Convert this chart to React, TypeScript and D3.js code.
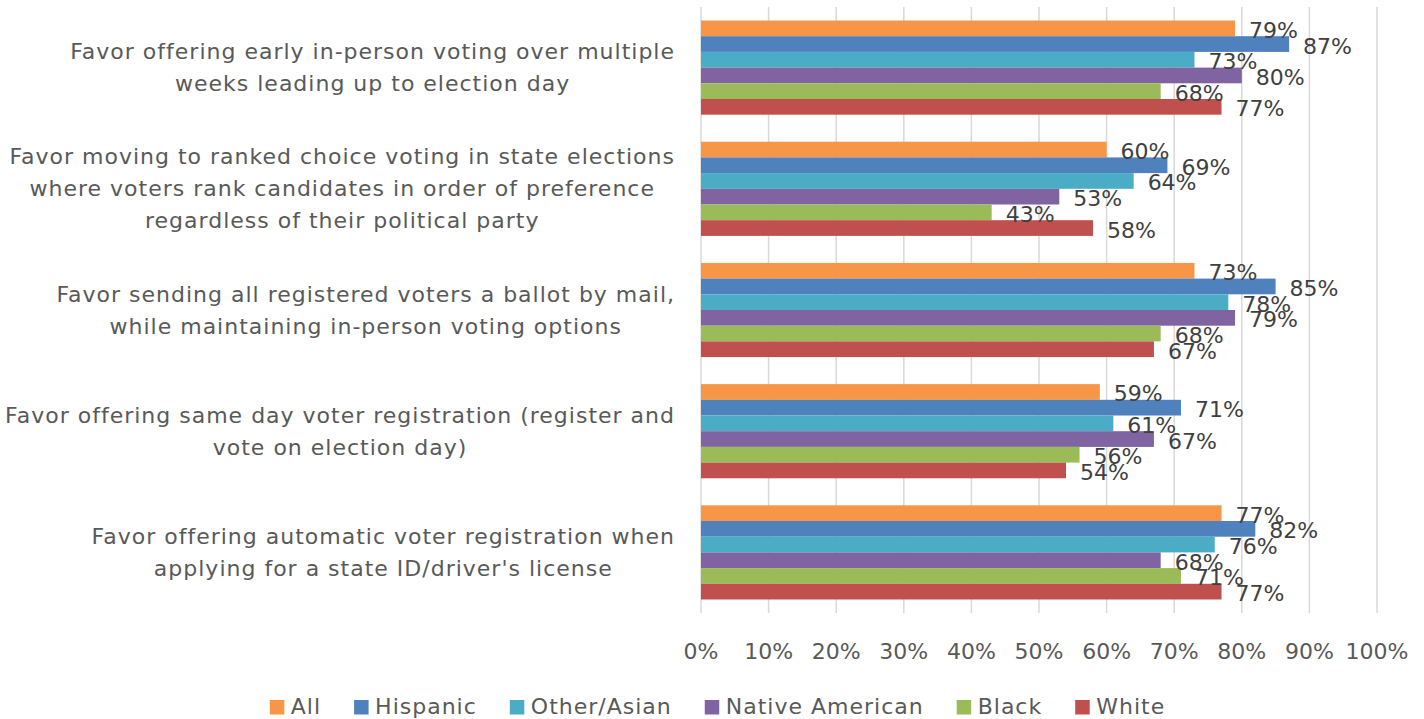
import React, { useEffect, useRef } from "react";
import * as d3 from "d3";

const categories = [
  ["Favor offering early in-person voting over multiple", "weeks leading up to election day"],
  ["Favor moving to ranked choice voting in state elections", "where voters rank candidates in order of preference", "regardless of their political party"],
  ["Favor sending all registered voters a ballot by mail,", "while maintaining in-person voting options"],
  ["Favor offering same day voter registration (register and", "vote on election day)"],
  ["Favor offering automatic voter registration when", "applying for a state ID/driver's license"],
];
const seriesNames = ["All", "Hispanic", "Other/Asian", "Native American", "Black", "White"];
const seriesColors = ["#F79646", "#4F81BD", "#4BACC6", "#8064A2", "#9BBB59", "#C0504D"];
const allValues = [79, 60, 73, 59, 77];
const hispanicValues = [87, 69, 85, 71, 82];
const otherAsianValues = [73, 64, 78, 61, 76];
const nativeAmericanValues = [80, 53, 79, 67, 68];
const blackValues = [68, 43, 68, 56, 71];
const whiteValues = [77, 58, 67, 54, 77];
const seriesValues = [allValues, hispanicValues, otherAsianValues, nativeAmericanValues, blackValues, whiteValues];
const xTicks = [0, 10, 20, 30, 40, 50, 60, 70, 80, 90, 100];

const W = 1424;
const H = 719;
const FONT = "'DejaVu Sans', sans-serif";
const FS = 22;

export default function App() {
  const ref = useRef<SVGSVGElement>(null);
  useEffect(() => {
    const svg = d3.select(ref.current);
    svg.selectAll("*").remove();
    const left = 701, right = 1377, top = 7, bottom = 613;
    const x = d3.scaleLinear().domain([0, 100]).range([left, right]);
    const y0 = d3.scaleBand<number>().domain(d3.range(categories.length)).range([top, bottom]).paddingInner(0.223).paddingOuter(0.1115);
    const y1 = d3.scaleBand<number>().domain(d3.range(seriesNames.length)).range([0, y0.bandwidth()]);

    // gridlines
    svg.append("g").selectAll("line").data(xTicks).join("line")
      .attr("x1", d => x(d)).attr("x2", d => x(d))
      .attr("y1", top).attr("y2", bottom)
      .attr("stroke", "#d9d9d9").attr("stroke-width", 1.5);

    // bars
    const groups = svg.append("g").selectAll("g").data(categories).join("g")
      .attr("transform", (_, i) => `translate(0,${y0(i)})`);
    groups.each(function (_, ci) {
      const g = d3.select(this);
      seriesValues.forEach((vals, si) => {
        g.append("rect")
          .attr("x", x(0)).attr("y", y1(si)!)
          .attr("width", x(vals[ci]) - x(0)).attr("height", y1.bandwidth())
          .attr("fill", seriesColors[si]);
      });
    });
    // labels
    groups.each(function (_, ci) {
      const g = d3.select(this);
      seriesValues.forEach((vals, si) => {
        g.append("text")
          .attr("x", x(vals[ci]) + 14).attr("y", y1(si)! + y1.bandwidth() / 2 + 2)
          .attr("dominant-baseline", "central")
          .attr("font-family", FONT).attr("font-size", FS).attr("fill", "#404040")
          .text(vals[ci] + "%");
      });
    });

    // category labels (block right-aligned at 675, lines centered within block)
    categories.forEach((lines, ci) => {
      const cy = y0(ci)! + y0.bandwidth() / 2;
      const lh = 32;
      const t = svg.append("text").attr("font-family", FONT).attr("font-size", FS)
        .attr("letter-spacing", 1)
        .attr("fill", "#595959").attr("text-anchor", "middle");
      lines.forEach((ln, li) => {
        t.append("tspan").attr("x", 0)
          .attr("y", cy + (li - (lines.length - 1) / 2) * lh)
          .attr("dominant-baseline", "central").text(ln);
      });
      const spans = t.selectAll<SVGTSpanElement, unknown>("tspan").nodes();
      const maxW = d3.max(spans, s => s.getComputedTextLength()) || 0;
      spans.forEach(s => d3.select(s).attr("x", 675 - maxW / 2));
    });

    // tick labels
    svg.append("g").selectAll("text").data(xTicks).join("text")
      .attr("x", d => x(d)).attr("y", 651).attr("text-anchor", "middle")
      .attr("dominant-baseline", "central")
      .attr("font-family", FONT).attr("font-size", FS).attr("fill", "#595959")
      .text(d => d + "%");

    // legend
    const lg = svg.append("g");
    const items = seriesNames.map((n, i) => {
      const g = lg.append("g");
      g.append("rect").attr("x", 0).attr("y", 700).attr("width", 14.5).attr("height", 14.5).attr("fill", seriesColors[i]);
      const t = g.append("text").attr("x", 21).attr("y", 706).attr("dominant-baseline", "central")
        .attr("letter-spacing", 1)
        .attr("font-family", FONT).attr("font-size", FS).attr("fill", "#595959").text(n);
      const w = 21 + (t.node() as SVGTextElement).getComputedTextLength();
      return { g, w };
    });
    const gap = 33;
    const total = d3.sum(items, d => d.w) + gap * (items.length - 1);
    let cx = 717.5 - total / 2;
    items.forEach(it => {
      it.g.attr("transform", `translate(${cx},0)`);
      cx += it.w + gap;
    });
  }, []);
  return (
    <svg ref={ref} width={W} height={H} style={{ position: "absolute", left: 0, top: 0, display: "block", background: "#fff" }} />
  );
}
